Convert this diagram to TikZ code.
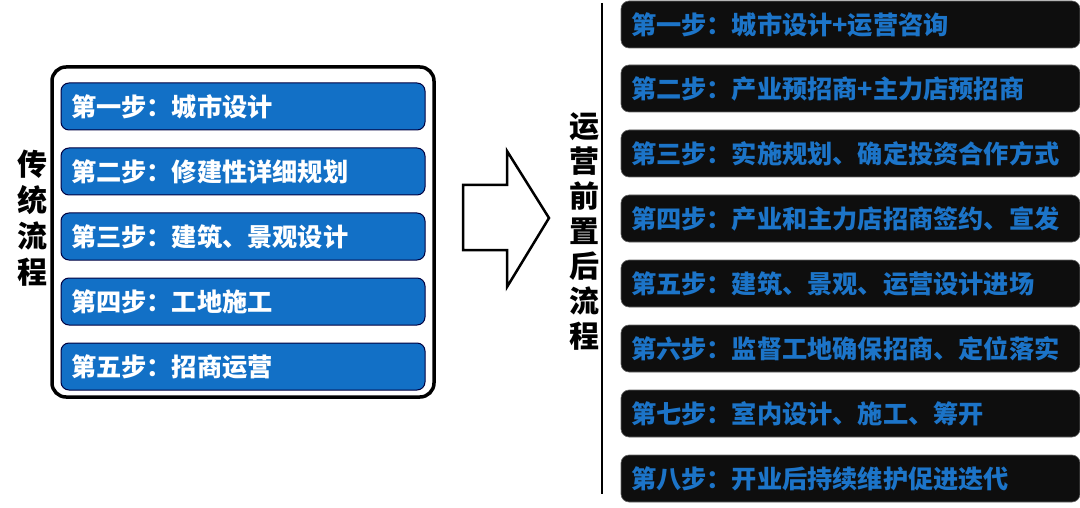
\documentclass[tikz,border=0pt]{standalone}
\usepackage{fontspec}
\newfontfamily\cjk{Noto Sans CJK SC}
\usepackage{tikz}
\usetikzlibrary{positioning}
\definecolor{stepblue}{RGB}{18,112,198}
\definecolor{textblue}{RGB}{28,116,200}
\definecolor{boxblack}{RGB}{14,14,14}

\begin{document}
\begin{tikzpicture}[x=1pt,y=-1pt,
                oldstep/.style={rectangle,rounded corners=8pt,draw=black!75!blue,line width=1pt,fill=stepblue,text=white,font=\cjk\bfseries\fontsize{25.2}{28}\selectfont,minimum width=364pt,minimum height=47pt,text width=344pt,align=left,inner xsep=10pt},
                newstep/.style={rectangle,rounded corners=8pt,draw=black!60,line width=0.6pt,fill=boxblack,text=textblue,font=\cjk\bfseries\fontsize{25.2}{28}\selectfont,minimum width=459pt,minimum height=47pt,text width=439pt,align=left,inner xsep=10pt},
                sidetext/.style={font=\cjk\bfseries\fontsize{30}{36}\selectfont,align=center,inner sep=0pt},
            ]
                \useasboundingbox (0,0) rectangle (1080,508);

                \node[draw=black,line width=3.5pt,rounded corners=14pt,minimum width=382pt,minimum height=330pt] (frame) at (243,232) { };
                \node[oldstep] (o1) at (243,106.5) {第一步：城市设计};
                \node[oldstep] (o2) at (243,171.5) {第二步：修建性详细规划};
                \node[oldstep] (o3) at (243,236.5) {第三步：建筑、景观设计};
                \node[oldstep] (o4) at (243,301.5) {第四步：工地施工};
                \node[oldstep] (o5) at (243,366.5) {第五步：招商运营};

                \node[sidetext] (oldlabel) at (32,218) {传\\统\\流\\程};

                \draw[line width=2.5pt,line join=miter] (463,185) -- (507,185) -- (507,151) -- (549,218) -- (507,287) -- (507,250) -- (463,250) -- cycle;

                \node[sidetext,font=\cjk\bfseries\fontsize{30}{35}\selectfont] (newlabel) at (584,232) {运\\营\\前\\置\\后\\流\\程};
                \coordinate (top) at (602,3);
                \coordinate (bottom) at (602,494);
                \draw[line width=2.5pt] (top) -- (bottom);

                \node[newstep] (n1) at (850.5,24.5) {第一步：城市设计+运营咨询};
                \node[newstep] (n2) at (850.5,88.5) {第二步：产业预招商+主力店预招商};
                \node[newstep] (n3) at (850.5,153.5) {第三步：实施规划、确定投资合作方式};
                \node[newstep] (n4) at (850.5,218.5) {第四步：产业和主力店招商签约、宣发};
                \node[newstep] (n5) at (850.5,283.5) {第五步：建筑、景观、运营设计进场};
                \node[newstep] (n6) at (850.5,348.5) {第六步：监督工地确保招商、定位落实};
                \node[newstep] (n7) at (850.5,413.5) {第七步：室内设计、施工、筹开};
                \node[newstep] (n8) at (850.5,478.5) {第八步：开业后持续维护促进迭代};
            \end{tikzpicture}
\end{document}
